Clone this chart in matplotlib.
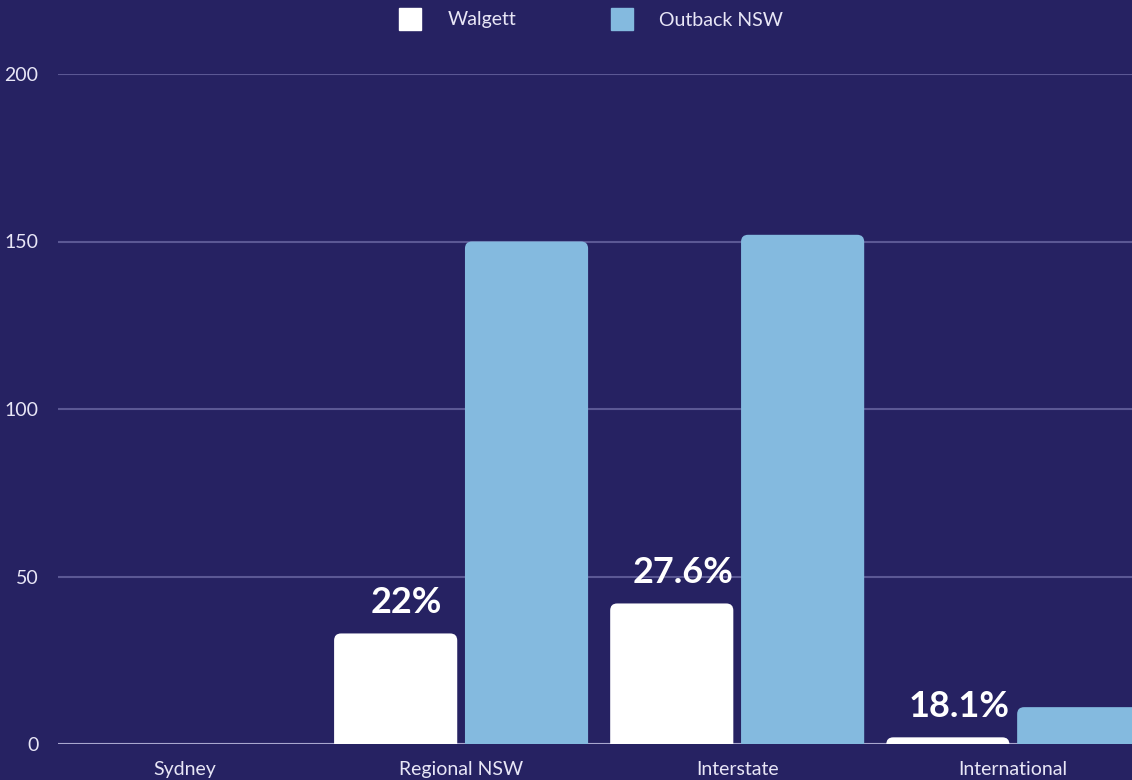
import numpy as np
import matplotlib.pyplot as plt
from matplotlib.patches import FancyBboxPatch
from matplotlib.lines import Line2D

categories = ["Sydney", "Regional NSW", "Interstate", "International"]
outback = [0, 150, 152, 11]
walgett_pct = [0, 22, 27.6, 18.1]   # Walgett as share of Outback NSW
walgett = [o * p / 100 for o, p in zip(outback, walgett_pct)]
pct_labels = ["", "22%", "27.6%", "18.1%"]

bg = "#262262"
white = "#ffffff"
blue = "#84badf"
txt = "#e8e6f6"

plt.rcParams['font.family'] = ['Lato', 'DejaVu Sans']

fig = plt.figure(figsize=(11.32, 7.8), dpi=100, facecolor=bg)
ax = fig.add_axes([58 / 1132, 36 / 780, 1 - 58 / 1132, 670 / 780], facecolor=bg)

xlo, xhi = -0.46, 3.43
ylo, yhi = 0, 200
ax.set_xlim(xlo, xhi)
ax.set_ylim(ylo, yhi)

# px per data unit, for rounded bar tops
sx = (1132 - 58) / (xhi - xlo)
sy = 670 / (yhi - ylo)
aspect = sx / sy
r = 7 / sx

width = 0.446
off = 0.237
x = np.arange(len(categories))

def rbar(xc, h, color):
    if h <= 0:
        return
    # start box below zero so only the top corners show rounded
    p = FancyBboxPatch((xc - width / 2, -10), width, h + 10,
                       boxstyle=f"round,pad=0,rounding_size={r}",
                       mutation_aspect=aspect, fc=color, ec="none",
                       zorder=3)
    ax.add_patch(p)

for i in range(len(categories)):
    rbar(x[i] - off, walgett[i], white)
    rbar(x[i] + off, outback[i], blue)
    if pct_labels[i]:
        ax.text(x[i] - off + 0.04, walgett[i] + 9.3, pct_labels[i], ha="center",
                va="center", color=white, fontsize=26, fontweight="bold",
                zorder=4)

ax.set_yticks([0, 50, 100, 150, 200])
ax.grid(axis="y", color="#5b5894", lw=1.5, zorder=1)
ax.axhline(0, color="#a9a7cf", lw=1.5, zorder=2)
ax.set_xticks(x)
ax.set_xticklabels(categories)
ax.tick_params(axis="both", length=0, colors=txt, labelsize=14)
ax.tick_params(axis="y", pad=14)
ax.tick_params(axis="x", pad=12)
for s in ax.spines.values():
    s.set_visible(False)

handles = [Line2D([], [], marker="s", ls="none", ms=16, mfc=white, mec=white),
           Line2D([], [], marker="s", ls="none", ms=16, mfc=blue, mec=blue)]
leg = fig.legend(handles, ["Walgett", "Outback NSW"], loc="center",
                 bbox_to_anchor=(587 / 1132, 1 - 20 / 780), ncol=2,
                 frameon=False, fontsize=14, handletextpad=0.9,
                 columnspacing=4.45, labelcolor=txt)

fig.savefig("out.png", dpi=100, facecolor=bg)
